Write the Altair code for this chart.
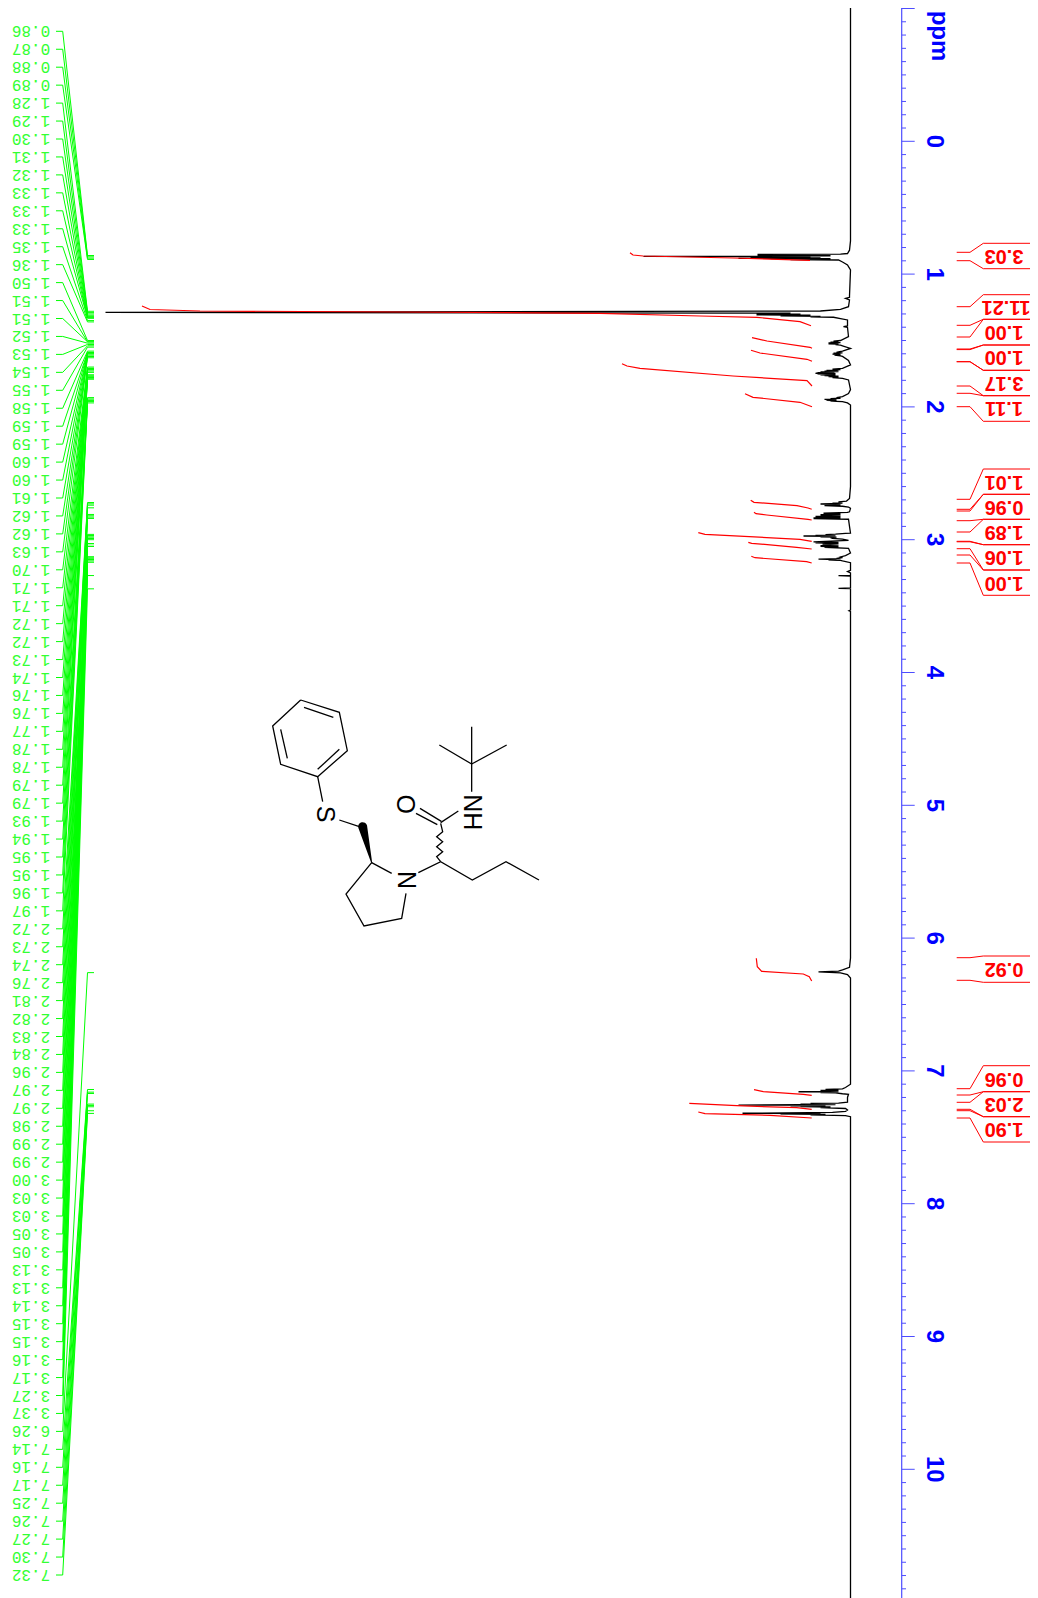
import altair as alt
import pandas as pd

# ---------- scales: x is the drawing offset, y is chemical shift in ppm ----------
W, H = 1022, 1590
PPM_ZERO, PX_PER_PPM = 141.3, 132.8
BASE = 850.5
def ppm(py):
    return (py - PPM_ZERO) / PX_PER_PPM
XS = alt.Scale(domain=[8, 8 + W], range=[0, W], nice=False, zero=False)
YS = alt.Scale(domain=[ppm(8), ppm(8 + H)], range=[0, H], nice=False, zero=False)
X = alt.X("x:Q", scale=XS, axis=None)
X2 = alt.X2("x2:Q")
Y = alt.Y("y:Q", scale=YS, axis=None)

# ---------- 1H spectrum (ppm, intensity) ----------
spectrum = [
(-1.004,0),(0.75,0),(0.82,1),(0.845,3),(0.849,10),(0.852,93),(0.854,30),(0.856,93),(0.858,20),(0.861,93),(0.863,20),(0.866,207),(0.869,60),(0.871,90),(0.873,40),(0.876,100),(0.878,30),(0.881,112),(0.883,20),(0.886,80),(0.889,40),(0.891,60),(0.894,12),
(0.909,8),(0.931,3),(0.969,0),(1.165,1),(1.175,1),(1.183,5),(1.195,1),(1.245,2),(1.265,10),(1.278,30),(1.288,745),(1.294,60),(1.298,94),(1.302,50),(1.306,94),(1.31,40),(1.314,70),(1.318,30),(1.322,40),
(1.325,17),(1.335,10),(1.345,3),(1.39,3),(1.396,7),(1.402,3),(1.47,2),(1.50,10),(1.504,17),(1.51,12),(1.513,20),(1.516,10),(1.519,22),(1.522,12),(1.525,22),(1.528,12),(1.531,15),(1.535,10),(1.54,8),
(1.56,0),(1.58,8),(1.585,12),(1.59,14),(1.593,8),(1.596,17),(1.60,10),(1.603,18),(1.607,10),(1.61,16),(1.615,10),(1.62,8),(1.65,2),(1.684,0),(1.71,8),(1.715,18),(1.72,10),(1.725,24),(1.728,12),(1.731,26),(1.734,12),(1.737,30),(1.74,16),
(1.743,32),(1.747,35),(1.75,15),(1.753,33),(1.756,15),(1.759,30),(1.762,15),(1.765,26),(1.768,12),(1.771,22),(1.775,12),(1.78,18),(1.785,8),(1.797,2),(1.87,0),(1.90,2),(1.923,8),(1.93,14),(1.935,10),(1.938,20),(1.941,14),(1.944,26),(1.947,14),(1.95,24),(1.953,14),(1.956,20),
(1.96,8),(1.97,3),(1.986,0),(2.60,0),(2.69,1),(2.709,4),(2.715,12),(2.72,8),(2.724,18),(2.727,8),(2.731,30),(2.734,10),(2.737,26),(2.74,10),(2.743,26),(2.748,8),(2.754,2),(2.764,0),(2.79,1),
(2.795,3),(2.80,27),(2.803,10),(2.806,27),(2.809,10),(2.812,30),(2.815,10),(2.818,30),(2.821,10),(2.824,35),(2.827,10),(2.83,35),(2.833,10),(2.836,37),(2.839,10),(2.842,37),(2.846,2),(2.90,1),(2.95,0),(2.952,5),(2.958,15),(2.962,25),(2.965,15),(2.968,35),(2.97,15),(2.972,47),
(2.975,18),(2.978,30),(2.981,14),(2.985,20),(2.99,18),(2.995,8),(3.005,2),(3.017,37),(3.02,12),(3.023,35),(3.027,12),(3.03,28),(3.034,12),(3.037,28),(3.04,12),(3.044,30),(3.047,12),(3.05,30),(3.053,12),(3.057,26),(3.065,2),(3.10,0),(3.12,5),(3.13,10),
(3.135,8),(3.14,14),(3.143,10),(3.147,32),(3.15,14),(3.153,22),(3.156,10),(3.16,8),(3.173,0),(3.23,0),(3.24,3),(3.25,0),(3.268,0),(3.271,12),(3.274,0),(3.363,0),(3.366,12),(3.369,0),(3.53,0),(3.535,1.5),(3.54,0),
(6.15,0),(6.22,1),(6.24,8),(6.248,12),(6.255,32),(6.262,10),(6.275,3),(6.30,0),(7.10,0),(7.125,5),(7.135,8),(7.14,25),(7.143,12),(7.146,30),(7.149,12),(7.152,30),(7.155,12),(7.157,52),(7.16,20),(7.163,30),(7.166,15),
(7.172,8),(7.176,2),(7.2,3),(7.235,3),(7.242,12),(7.245,40),(7.248,15),(7.25,50),(7.253,15),(7.257,112),(7.26,25),(7.263,60),(7.266,25),(7.269,50),(7.272,20),(7.276,30),(7.283,5),(7.294,3),(7.305,5),(7.312,18),
(7.319,108),(7.322,30),(7.325,70),(7.328,25),(7.331,40),(7.337,5),(7.345,0),(7.40,0),(10.97,0),
]

# ---------- peak picking labels ----------
peak_labels = [
"0.86","0.87","0.88","0.89","1.28","1.29","1.30","1.31","1.32","1.33","1.33","1.33","1.35","1.36",
"1.50","1.51","1.51","1.52","1.53","1.54","1.55","1.58","1.59","1.59","1.60","1.60","1.61","1.62","1.62","1.63",
"1.70","1.71","1.71","1.72","1.72","1.73","1.74","1.76","1.76","1.77","1.78","1.78","1.79","1.79",
"1.93","1.94","1.95","1.95","1.96","1.97","2.72","2.73","2.74","2.76","2.81","2.82","2.83","2.84",
"2.96","2.97","2.97","2.98","2.99","2.99","3.00","3.03","3.03","3.05","3.05",
"3.13","3.13","3.14","3.15","3.15","3.16","3.17","3.27","3.37","6.26",
"7.14","7.16","7.17","7.25","7.26","7.27","7.30","7.32",
]
LABEL_TOP, LABEL_STEP = 31.3, 17.95

# ---------- integrals: value, label centre, (upper inner, upper outer, lower inner, lower outer) ----------
integrals = [
("3.03",1004,256.0,252.3,243.3,260.7,268.7),
("11.21",1006,306.7,306.7,294.7,325.3,319.3),
("1.00",1004,332.0,337.0,319.3,349.0,345.0),
("1.00",1004,357.3,349.6,345.0,361.7,370.3),
("3.17",1004,383.0,361.7,370.3,386.0,395.7),
("1.11",1004,408.3,393.3,395.7,406.7,421.3),
("1.01",1004,481.7,499.3,469.0,509.3,494.3),
("0.96",1004,506.7,511.0,494.3,520.7,519.3),
("1.89",1004,532.3,532.0,519.3,541.3,544.7),
("1.06",1004,557.3,541.8,544.7,548.7,570.0),
("1.00",1004,582.7,555.0,570.0,563.0,595.3),
("0.92",1004,969.3,957.7,956.0,980.3,982.3),
("0.96",1004,1079.0,1088.7,1065.7,1095.0,1091.7),
("2.03",1004,1104.0,1102.3,1091.7,1109.3,1116.7),
("1.90",1004,1129.3,1110.7,1116.7,1118.0,1142.0),
]
integral_curves = [
[(630,252.7),(633,255),(643,256),(733,258),(810,260.3)],
[(142,306),(150,309.5),(200,311),(400,312),(600,313.3),(700,316),(757,317.3),(800,321.7),(811,325.7)],
[(752,337.7),(767,341),(810,347.3),(812,348.3)],
[(751,350.3),(760,353),(807,359.3),(812,361.3)],
[(622,363.7),(627,366),(640,368.3),(733,376),(807,380.7),(812,386)],
[(745,393.7),(753,397.3),(800,402.3),(812,406.7)],
[(750.7,500.3),(754,502.3),(797,505.7),(808,508),(811.7,509.3)],
[(754,512.3),(756,513.7),(766.7,515),(808,519.3),(811.7,520)],
[(698.3,532.7),(705,534.3),(800,539.3),(811.7,541.3)],
[(748.3,542.3),(751.7,543.3),(796.7,547.3),(811.7,549)],
[(751.3,556.3),(755,557.7),(806.7,561.7),(811.7,563)],
[(756.3,958.3),(757.3,966.7),(761.7,971.3),(803.3,974),(809.3,976.7),(811.7,981)],
[(754,1089.7),(763.3,1091.7),(803.3,1094.3),(811.7,1095.3)],
[(689.3,1103.3),(736.7,1105.7),(796.7,1107.7),(811.7,1109.3)],
[(698.3,1112),(705,1113.7),(770,1115.3),(811.7,1118)],
]

# ---------- structure drawing, in its own drawing units ----------
MOL_X0, MOL_Y0, MOL_K = 250, 680, 3
bonds = [
[(152,60),(268,97),(292,212),(203,290),(92,253),(68,138),(152,60)],
[(162,82),(250,112)],[(92,148),(112,235)],[(268,208),(203,268)],
[(203,290),(218,365)],[(268,420),(328,440)],
[(365,548),(425,580)],[(365,548),(288,642),(342,738),(455,715),(468,640)],
[(505,578),(572,545),(667,600),(768,545),(867,600)],
[(572,545),(560,530),(578,515),(560,500),(578,485),(560,470),(578,455),(572,430)],
[(574,424),(510,385)],[(562,434),(498,400)],[(572,428),(625,393)],
[(665,335),(665,252)],[(665,252),(665,140)],[(665,252),(568,195)],[(665,252),(770,195)],
]
wedge = [(365,548,0),(338,440,9)]
atoms = [("S",226,402),("O",466,373),("N",468,600),("NH",665,397)]

def mol(a, b):
    return MOL_X0 + a / MOL_K, ppm(MOL_Y0 + b / MOL_K)

# ---------- build tables ----------
rows = [{"x": BASE - i, "y": p, "o": k} for k, (p, i) in enumerate(spectrum)]
spec_df = pd.DataFrame(rows)

g_rows, g_txt = [], []
for k, lab in enumerate(peak_labels):
    ly = LABEL_TOP + LABEL_STEP * k
    p = float(lab)
    for o, (xx, yy) in enumerate([(56, ppm(ly)), (62.7, ppm(ly)), (87.5, p), (94, p)]):
        g_rows.append({"x": xx, "y": yy, "g": k, "o": o})
    g_txt.append({"x": 31, "y": ppm(ly), "t": lab})
green_df, green_txt = pd.DataFrame(g_rows), pd.DataFrame(g_txt)

r_rows, r_txt, gid = [], [], 0
for val, cx, cy, ui, uo, li, lo in integrals:
    for inner, outer in ((ui, uo), (li, lo)):
        for o, (xx, yy) in enumerate([(956.7, inner), (970, inner), (983.3, outer), (1037, outer)]):
            r_rows.append({"x": xx, "y": ppm(yy), "g": gid, "o": o})
        gid += 1
    r_txt.append({"x": cx, "y": ppm(cy), "t": val})
red_df, red_txt = pd.DataFrame(r_rows), pd.DataFrame(r_txt)

c_rows = []
for k, c in enumerate(integral_curves):
    for o, (xx, yy) in enumerate(c):
        c_rows.append({"x": xx, "y": ppm(yy), "g": k, "o": o})
curve_df = pd.DataFrame(c_rows)

b_rows = []
for k, b in enumerate(bonds):
    for o, (a, c) in enumerate(b):
        xx, yy = mol(a, c)
        b_rows.append({"x": xx, "y": yy, "g": k, "o": o})
bond_df = pd.DataFrame(b_rows)
wedge_df = pd.DataFrame([{"x": mol(a, c)[0], "y": mol(a, c)[1], "s": s, "o": o} for o, (a, c, s) in enumerate(wedge)])
atom_df = pd.DataFrame([{"x": mol(a, c)[0], "y": mol(a, c)[1], "t": t} for t, a, c in atoms])

AXIS_X = 901.7
axis_df = pd.DataFrame([{"x": AXIS_X, "y": ppm(8), "y2": ppm(8 + H)}])
ticks = [i / 10 for i in range(-10, 110)]
tick_df = pd.DataFrame([{"x": AXIS_X, "x2": 914.7 if round(t * 10) % 10 == 0 else 906, "y": t} for t in ticks])
axis_lab = pd.DataFrame([{"x": 934, "y": float(n), "t": str(n)} for n in range(0, 11)])
ppm_lab = pd.DataFrame([{"x": 939, "y": ppm(36), "t": "ppm"}])

BLUE, GREEN, RED = "#0000ff", "#00ff00", "#ff0000"
AXIS_BLUE = "#4d4dff"
ord_ = alt.Order("o:Q")

chart = alt.layer(
    alt.Chart(green_df).mark_line(color=GREEN, strokeWidth=1).encode(X, Y, detail="g:N", order=ord_),
    alt.Chart(green_txt).mark_text(color="#33ff33", font="Liberation Mono", fontSize=16, angle=180,
                                   align="center", baseline="middle").encode(X, Y, text="t:N"),
    alt.Chart(spec_df).mark_line(color="#000000", strokeWidth=1.3).encode(X, Y, order=ord_),
    alt.Chart(curve_df).mark_line(color=RED, strokeWidth=1.2).encode(X, Y, detail="g:N", order=ord_),
    alt.Chart(red_df).mark_line(color=RED, strokeWidth=1).encode(X, Y, detail="g:N", order=ord_),
    alt.Chart(red_txt).mark_text(color=RED, font="Liberation Sans", fontWeight="bold", fontSize=20, angle=180,
                                 align="center", baseline="middle").encode(X, Y, text="t:N"),
    alt.Chart(axis_df).mark_rule(color=AXIS_BLUE, strokeWidth=1.2).encode(X, Y, alt.Y2("y2:Q")),
    alt.Chart(tick_df).mark_rule(color=AXIS_BLUE, strokeWidth=1).encode(X, X2, Y),
    alt.Chart(axis_lab).mark_text(color=BLUE, font="Liberation Sans", fontWeight="bold", fontSize=24, angle=90,
                                  align="center", baseline="middle").encode(X, Y, text="t:N"),
    alt.Chart(ppm_lab).mark_text(color=BLUE, font="Liberation Sans", fontWeight="bold", fontSize=24, angle=90,
                                 align="center", baseline="middle").encode(X, Y, text="t:N"),
    alt.Chart(bond_df).mark_line(color="#000000", strokeWidth=1.3).encode(X, Y, detail="g:N", order=ord_),
    alt.Chart(wedge_df).mark_trail(color="#000000").encode(X, Y, alt.Size("s:Q", scale=None, legend=None), order=ord_),
    alt.Chart(atom_df).mark_text(color="#000000", font="Liberation Sans", fontSize=25, angle=90,
                                 align="center", baseline="middle").encode(X, Y, text="t:N"),
).properties(width=W, height=H, padding=0, background="white",
             autosize=alt.AutoSizeParams(type="none")).configure_view(stroke=None)

chart.save("out.html", embed_options={"renderer": "svg", "actions": False})
